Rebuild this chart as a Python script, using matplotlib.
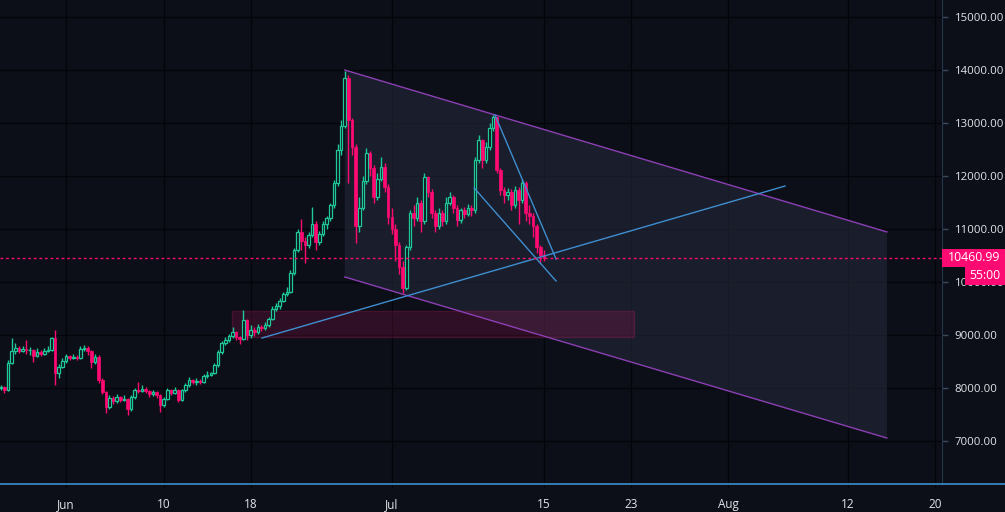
import numpy as np
import pandas as pd
import matplotlib
matplotlib.use("Agg")
import matplotlib.pyplot as plt
import matplotlib.dates as mdates
from matplotlib.patches import Polygon, Rectangle
from matplotlib.lines import Line2D

# 8h candles, 2019-05-26 00:00 onwards
START = "2019-05-26"
closes = [8010, 7960, 8480, 8690, 8760, 8700, 8740, 8710, 8720, 8600,
          8680, 8640, 8700, 8720, 8940, 8280, 8400, 8510, 8600, 8560,
          8590, 8570, 8740, 8760, 8700, 8490, 8590, 8150, 7920, 7650,
          7820, 7760, 7830, 7780, 7800, 7600, 7830, 7960, 7950, 7990,
          7940, 7880, 7920, 7870, 7680, 7800, 7960, 7900, 7970, 7780,
          7960, 8050, 8150, 8120, 8140, 8120, 8220, 8240, 8280, 8430,
          8680, 8850, 8900, 8980, 9060, 8960, 8920, 9280, 9000, 9100,
          9060, 9150, 9140, 9180, 9300, 9500, 9540, 9650, 9780, 9820,
          10170, 10600, 10940, 10780, 10700, 10880, 11100, 10750, 10900, 11100,
          11200, 11450, 11870, 12490, 12950, 13850, 13060, 12550, 11050, 11400,
          11900, 12430, 12150, 11600, 11950, 12170, 11800, 11230, 11000, 10700,
          10280, 9880, 10660, 11300, 11200, 11490, 11150, 11980, 11700, 11300,
          11050, 11300, 11150, 11500, 11600, 11400, 11170, 11350, 11280, 11400,
          11350, 12300, 12680, 12300, 12550, 12900, 13110, 12110, 11740, 11650,
          11700, 11450, 11740, 11550, 11870, 11300, 11250, 11050, 10660, 10510,
          10460.99]
highs = [8060, 8030, 8520, 8940, 8850, 8800, 8790, 8900, 8780, 8740,
         8760, 8720, 8760, 8800, 8960, 9090, 8450, 8560, 8650, 8630,
         8640, 8620, 8800, 8810, 8790, 8720, 8650, 8620, 8180, 7940,
         7870, 7850, 7880, 7850, 7860, 7820, 7860, 8000, 8110, 8050,
         8020, 7970, 7960, 7950, 7890, 7830, 8000, 7990, 8020, 7990,
         7990, 8090, 8200, 8170, 8180, 8170, 8260, 8330, 8310, 8470,
         8720, 8880, 8960, 9020, 9150, 9080, 8990, 9470, 9300, 9180,
         9160, 9200, 9190, 9240, 9340, 9540, 9600, 9700, 9820, 9900,
         10220, 10650, 11000, 11190, 10850, 10950, 11410, 11150, 10960, 11150,
         11250, 11500, 11920, 12600, 13050, 13990, 13900, 13100, 12600, 11600,
         12000, 12530, 12470, 12200, 12050, 12350, 12250, 11850, 11400, 11100,
         10750, 10400, 10700, 11350, 11450, 11600, 11550, 12050, 12000, 11750,
         11350, 11400, 11350, 11600, 11700, 11650, 11450, 11400, 11420, 11480,
         11450, 12350, 12780, 12700, 12650, 13000, 13150, 13120, 12150, 11800,
         11780, 11750, 11820, 11800, 11950, 11900, 11450, 11300, 11100, 10700,
         10600]
lows = [7960, 7900, 7950, 8460, 8640, 8660, 8680, 8650, 8620, 8500,
        8580, 8600, 8620, 8680, 8700, 8060, 8180, 8380, 8480, 8520,
        8540, 8530, 8550, 8700, 8620, 8380, 8450, 8100, 7880, 7530,
        7600, 7700, 7720, 7740, 7750, 7490, 7570, 7800, 7900, 7920,
        7900, 7830, 7850, 7820, 7550, 7640, 7780, 7860, 7880, 7740,
        7760, 7930, 8020, 8080, 8060, 8080, 8100, 8190, 8220, 8260,
        8400, 8640, 8820, 8860, 8940, 8900, 8830, 8900, 8900, 8950,
        8980, 9020, 9080, 9100, 9150, 9280, 9460, 9500, 9620, 9740,
        9800, 10130, 10560, 10600, 10350, 10650, 10850, 10600, 10700, 10870,
        11000, 11160, 11400, 11820, 12400, 12900, 11870, 12400, 10730, 10950,
        11350, 11850, 12000, 11500, 11550, 11900, 11700, 11100, 10900, 10400,
        10150, 9790, 9850, 10600, 11050, 11150, 10950, 11100, 11600, 11200,
        10950, 11000, 11050, 11100, 11450, 11300, 11050, 11120, 11200, 11240,
        11250, 11300, 12250, 12150, 12250, 12500, 12850, 12050, 11650, 11500,
        11550, 11350, 11400, 11100, 11500, 11150, 11100, 10850, 10550, 10360,
        10400]

LAST_PRICE = 10460.99
tick_dates = ["2019-06-01", "2019-06-10", "2019-06-18", "2019-07-01", "2019-07-15",
              "2019-07-23", "2019-08-01", "2019-08-12", "2019-08-20"]
tick_labels = ["Jun", "10", "18", "Jul", "15", "23", "Aug", "12", "20"]
price_ticks = [7000, 8000, 9000, 10000, 11000, 12000, 13000, 14000, 15000]

# drawings
channel_dates = ["2019-06-26 16:00", "2019-08-15 14:00"]
channel_upper = [14000, 10945]
channel_lower = [10095, 7056]
zone_dates = ["2019-06-16 07:00", "2019-07-23 07:00"]
zone_prices = [8962, 9452]
trend_dates = ["2019-06-19 01:00", "2019-08-06 05:00"]
trend_prices = [8943, 11811]
wedge_a_dates = ["2019-07-10 12:00", "2019-07-16 03:00"]
wedge_a_prices = [13151, 10433]
wedge_b_dates = ["2019-07-08 14:00", "2019-07-16 03:00"]
wedge_b_prices = [11773, 10018]

BG = "#0c0f17"
UP = "#1fc99a"
DOWN = "#fd0a73"
GRID = "#03050a"
BLUE = "#3e8ed0"
PURPLE = "#8c3fb4"
TXT = "#e2e4ea"
FONT = ["Open Sans", "DejaVu Sans"]


def dnum(s):
    return mdates.date2num(pd.Timestamp(s))


def main():
    plt.rcParams["font.family"] = FONT
    t = mdates.date2num(pd.date_range(START, periods=len(closes), freq="8h"))
    c = np.array(closes, dtype=float)
    o = np.concatenate([[8000.0], c[:-1]])
    h = np.array(highs, dtype=float)
    l = np.array(lows, dtype=float)

    fig = plt.figure(figsize=(10.05, 5.12), dpi=100, facecolor=BG)
    ax = fig.add_axes([0, 28 / 512, 942 / 1005, 484 / 512], facecolor=BG)
    ax.set_xlim(dnum("2019-06-01") - 6.077, dnum("2019-06-01") + 80.66)
    ax.set_ylim(6188.7, 15320.8)

    # grid
    for d in tick_dates:
        ax.axvline(dnum(d), color=GRID, lw=1.0, zorder=0)
    for p in price_ticks:
        ax.axhline(p, color=GRID, lw=1.0, zorder=0)

    # channel
    x0, x1 = dnum(channel_dates[0]), dnum(channel_dates[1])
    ax.add_patch(Polygon([(x0, channel_upper[0]), (x1, channel_upper[1]),
                          (x1, channel_lower[1]), (x0, channel_lower[0])],
                         closed=True, facecolor="#232636", alpha=0.65,
                         edgecolor="none", zorder=1))
    ax.plot([x0, x1], channel_upper, color=PURPLE, lw=1.0, zorder=4)
    ax.plot([x0, x1], channel_lower, color=PURPLE, lw=1.0, zorder=4)

    # zone
    z0, z1 = dnum(zone_dates[0]), dnum(zone_dates[1])
    ax.add_patch(Rectangle((z0, zone_prices[0]), z1 - z0, zone_prices[1] - zone_prices[0],
                           facecolor="#b0135a", alpha=0.22, edgecolor="#d0206a",
                           lw=1.0, zorder=2))

    # candles
    w = 0.24
    up = c >= o
    ax.vlines(t, l, h, colors=np.where(up, UP, DOWN), lw=1.0, zorder=3)
    ax.bar(t[up], (c - o)[up], bottom=o[up], width=w, facecolor=BG,
           edgecolor=UP, lw=0.9, zorder=3.5)
    ax.bar(t[~up], (c - o)[~up], bottom=o[~up], width=w, color=DOWN,
           edgecolor=DOWN, lw=0.5, zorder=3.5)

    # trend lines
    for ds, ps in [(trend_dates, trend_prices), (wedge_a_dates, wedge_a_prices),
                   (wedge_b_dates, wedge_b_prices)]:
        ax.plot([dnum(d) for d in ds], ps, color=BLUE, lw=1.0, zorder=5)

    ax.axhline(LAST_PRICE, color=DOWN, lw=1.0, ls=(0, (2, 2)), zorder=6)

    # axes styling
    for s in ["top", "left", "bottom"]:
        ax.spines[s].set_visible(False)
    ax.spines["right"].set_color("#24364a")
    ax.yaxis.tick_right()
    ax.set_yticks(price_ticks)
    ax.set_yticklabels([f"{p:.2f}" for p in price_ticks])
    ax.tick_params(axis="y", colors="#3a4a5c", length=4, width=1, pad=5,
                   labelcolor=TXT, labelsize=8.2)
    ax.set_xticks([dnum(d) for d in tick_dates])
    ax.set_xticklabels(tick_labels)
    ax.tick_params(axis="x", colors=GRID, length=3, pad=7,
                   labelcolor=TXT, labelsize=8.5)

    fig.add_artist(Line2D([0, 1], [28 / 512, 28 / 512], color=BLUE, lw=1.2))

    # price labels on axis
    yl = ax.transData.transform((0, LAST_PRICE))[1] / 512
    fig.add_artist(Rectangle((942 / 1005, yl - 9 / 512), 63 / 1005, 18 / 512,
                             facecolor=DOWN, edgecolor="none", zorder=10))
    fig.text(974 / 1005, yl, f"{LAST_PRICE:.2f}", color="white", fontsize=8.8,
             ha="center", va="center", zorder=11)
    fig.add_artist(Rectangle((965 / 1005, yl - 27 / 512), 40 / 1005, 18 / 512,
                             facecolor=DOWN, edgecolor="none", zorder=10))
    fig.text(985 / 1005, yl - 18 / 512, "55:00", color="white", fontsize=8.8,
             ha="center", va="center", zorder=11)

    fig.savefig("out.png", facecolor=BG)
    plt.close(fig)


if __name__ == "__main__":
    main()
